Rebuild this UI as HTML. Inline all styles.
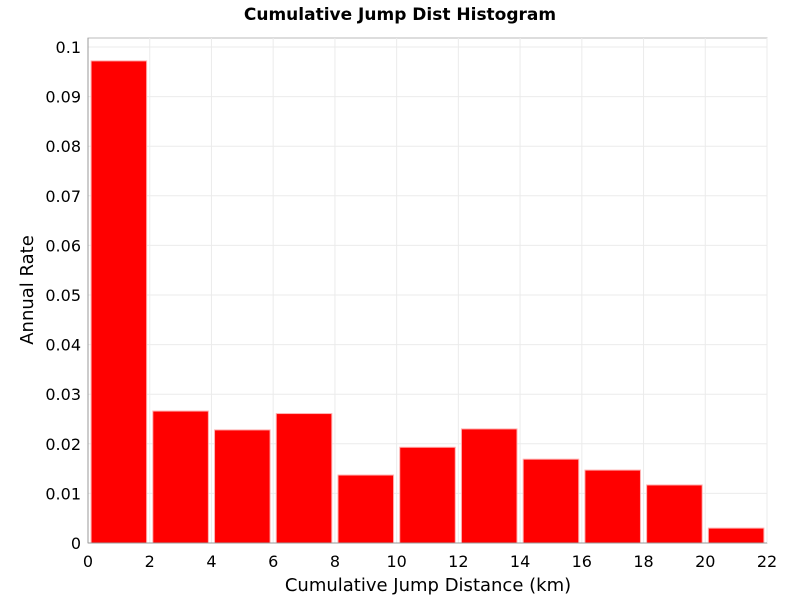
<!DOCTYPE html>
<html><head><meta charset="utf-8"><style>
body{margin:0;background:#fff;font-family:"DejaVu Sans","Liberation Sans",sans-serif}
</style></head><body>
<svg id="chart" width="800" height="600" xmlns="http://www.w3.org/2000/svg">
<text x="400" y="20" text-anchor="middle" font-size="17" font-weight="bold">Cumulative Jump Dist Histogram</text>
<g id="grid"></g><g id="bars"></g><g id="axes"></g>
<text x="428" y="591" text-anchor="middle" font-size="18">Cumulative Jump Distance (km)</text>
<text transform="translate(33,290) rotate(-90)" text-anchor="middle" font-size="18">Annual Rate</text>
</svg>
<script>
const binStarts=[0,2,4,6,8,10,12,14,16,18,20];
const rates=[0.0972,0.0266,0.0228,0.0261,0.0137,0.0193,0.0230,0.0169,0.0147,0.0117,0.0030];
const xTicks=[0,2,4,6,8,10,12,14,16,18,20,22];
const yTicks=[0,0.01,0.02,0.03,0.04,0.05,0.06,0.07,0.08,0.09,0.1];
const yTickLabels=["0","0.01","0.02","0.03","0.04","0.05","0.06","0.07","0.08","0.09","0.1"];
const L=88,R=767,T=38,B=543;
const xs=v=>L+(v-0)/22*(R-L);
const ys=v=>B-v*4960;
const NS="http://www.w3.org/2000/svg";
function mk(p,t,a){const e=document.createElementNS(NS,t);for(const k in a)e.setAttribute(k,a[k]);p.appendChild(e);return e;}
const g=document.getElementById('grid'),b=document.getElementById('bars'),ax=document.getElementById('axes');
mk(g,'rect',{x:L,y:T,width:R-L,height:B-T,fill:'#fff',stroke:'#bbb'});
xTicks.forEach(t=>{const l=mk(g,'line',{x1:xs(t),x2:xs(t),y1:T,y2:B,stroke:'#ebebeb'});


const tx=mk(ax,'text',{x:xs(t),y:B+24,'text-anchor':'middle','font-size':16});tx.textContent=t;

});
yTicks.forEach((t,i)=>{const l=mk(g,'line',{x1:L,x2:R,y1:ys(t),y2:ys(t),stroke:'#ebebeb'});


const tx=mk(ax,'text',{x:L-7,y:ys(t)+6,'text-anchor':'end','font-size':16});tx.textContent=yTickLabels[i];

});
binStarts.forEach((s,i)=>{const r=mk(b,'rect',{x:xs(s+0.1),y:ys(rates[i]),width:xs(s+1.9)-xs(s+0.1),height:B-ys(rates[i]),fill:'#ff0000',stroke:'#ffb0b0','stroke-width':1});

});
mk(ax,'line',{x1:L,x2:L,y1:T,y2:B,stroke:'#999'});
mk(ax,'line',{x1:L,x2:R,y1:B,y2:B,stroke:'#999'});
</script>
</body></html>
